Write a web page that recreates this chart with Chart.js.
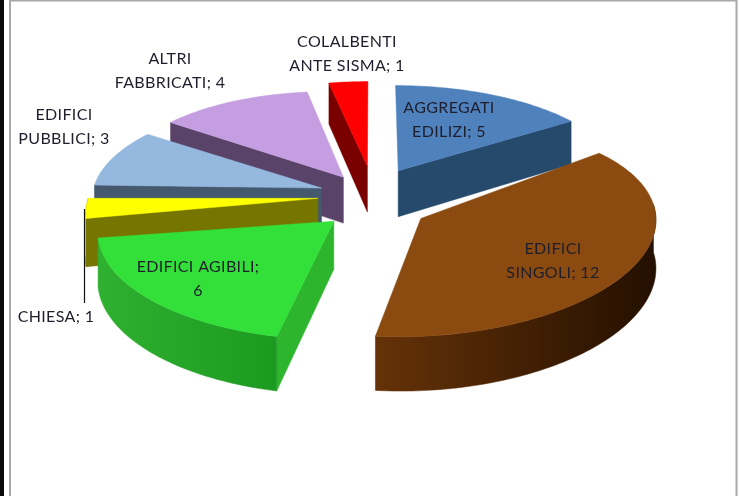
<!DOCTYPE html>
<html><head><meta charset="utf-8">
<style>html,body{margin:0;padding:0;background:#fff}canvas{display:block;filter:blur(.45px)}</style>
<script src="https://cdn.jsdelivr.net/npm/chart.js@4"></script></head>
<body><canvas id="c" width="741" height="496"></canvas>
<script>
const categories=['AGGREGATI EDILIZI','EDIFICI SINGOLI','EDIFICI AGIBILI','CHIESA','EDIFICI PUBBLICI','ALTRI FABBRICATI','COLALBENTI ANTE SISMA'];
const values=[5,12,6,1,3,4,1];
const firstLineWords=[1,1,2,0,1,1,1];
const topColors=['#4f81bd','#8b4a10','#33e03a','#ffff00','#95b8de','#c49ee0','#ff0000'];
const wallColors=['#264a6b','#6b3a0c','#2eb52e','#757500','#44586e','#5a4368','#7a0000'];
const outerLeft=['#264a6b','#653208','#30b030','#757500','#44586e','#5a4368','#7a0000'];
const outerRight=['#264a6b','#241000','#1b9a20','#757500','#44586e','#5a4368','#7a0000'];
const labelCenters=[[449,108],[553,249],[198,267],[56,317],[64,115],[170,59],[347,42]];
const sliceLift=[-9,8,5,-4,-4.5,-3,-11];
const sliceTilt=[0,-14,4,0,3,6,0];
const sliceNudge=[1,3,0,-1,0,0,0];
const view={sx:229,sy:100,k:.12,depth:47,baseY:200,shiftX:2};
const explode=52;

function project(el,i,alpha,r,z){
  const R=el.outerRadius,mid=(el.startAngle+el.endAngle)/2,o=explode/R;
  const X=o*Math.cos(mid)+r*Math.cos(alpha),Y=-o*Math.sin(mid)-r*Math.sin(alpha);
  const p=1/(1+view.k*Y);
  return [el.x+view.shiftX+sliceNudge[i]+view.sx*X*p,view.baseY-view.sy*Y*p+sliceLift[i]+sliceTilt[i]*X+z*view.depth*p];
}
function poly(ctx,pts,fill){ctx.beginPath();pts.forEach((q,n)=>n?ctx.lineTo(q[0],q[1]):ctx.moveTo(q[0],q[1]));ctx.closePath();ctx.fillStyle=fill;ctx.fill();ctx.strokeStyle=fill;ctx.lineWidth=.5;ctx.stroke();}
function arcAngles(a,b){const n=Math.max(2,Math.ceil((b-a)/.02)),out=[];for(let s=0;s<=n;s++)out.push(a+(b-a)*s/n);return out;}

const pie3d={id:'pie3d',
  beforeDraw(chart){
    const c=chart.ctx;c.save();
    c.fillStyle='#fff';c.fillRect(0,0,741,496);
    c.fillStyle='#0a0a0a';c.fillRect(0,0,4,496);
    c.fillStyle='#a8a8a8';c.fillRect(9,0,2,496);c.fillRect(9,0,728,1.5);c.fillRect(735.5,0,2,496);
    c.restore();
  },
  beforeDatasetDraw(chart,args){
    const c=chart.ctx,els=chart.getDatasetMeta(args.index).data;
    const order=els.map((e,i)=>i).sort((a,b)=>{
      const f=e=>-Math.sin((e.startAngle+e.endAngle)/2);return f(els[b])-f(els[a]);});
    order.forEach(i=>{
      const el=els[i],a0=el.startAngle,a1=el.endAngle;
      const wallAngle=Math.cos(a0)<-1e-6?a0:(Math.cos(a1)>1e-6?a1:null);
      if(wallAngle!==null)poly(c,[project(el,i,wallAngle,0,0),project(el,i,wallAngle,1,0),project(el,i,wallAngle,1,1),project(el,i,wallAngle,0,1)],wallColors[i]);
      const lo=Math.max(a0,0),hi=Math.min(a1,Math.PI);
      if(hi>lo){
        const angs=arcAngles(lo,hi),pts=angs.map(a=>project(el,i,a,1,0)).concat(angs.slice().reverse().map(a=>project(el,i,a,1,1)));
        const xs=pts.map(q=>q[0]),g=c.createLinearGradient(Math.min(...xs),0,Math.max(...xs),0);
        g.addColorStop(0,outerLeft[i]);g.addColorStop(1,outerRight[i]);
        poly(c,pts,g);
      }
      poly(c,[project(el,i,a0,0,0)].concat(arcAngles(a0,a1).map(a=>project(el,i,a,1,0))),topColors[i]);
    });
    return false;
  },
  afterDatasetsDraw(chart){
    const c=chart.ctx;c.save();
    const iLeader=categories.indexOf('CHIESA');
    c.strokeStyle='#111';c.lineWidth=1.2;c.beginPath();c.moveTo(84.5,209);c.lineTo(84.5,labelCenters[iLeader][1]-14);c.stroke();
    c.font='16px Lato';c.letterSpacing='0.35px';c.fillStyle='#1e1e2c';c.textAlign='center';c.textBaseline='middle';
    categories.forEach((name,i)=>{
      const words=name.split(' '),n=firstLineWords[i],[x,y]=labelCenters[i];
      let lines;
      if(n===0)lines=[name+'; '+values[i]];
      else{const rest=words.slice(n);lines=rest.length?[words.slice(0,n).join(' '),rest.join(' ')+'; '+values[i]]:[words.join(' ')+';',String(values[i])];}
      lines.forEach((t,k)=>c.fillText(t,x,y+k*24));
    });
    c.restore();
  }
};
new Chart(document.getElementById('c'),{
  type:'pie',
  data:{labels:categories,datasets:[{data:values,backgroundColor:topColors,borderWidth:0,offset:explode}]},
  options:{responsive:false,animation:false,rotation:0,layout:{padding:0},
    plugins:{legend:{display:false},tooltip:{enabled:false}}},
  plugins:[pie3d]
});
</script></body></html>
